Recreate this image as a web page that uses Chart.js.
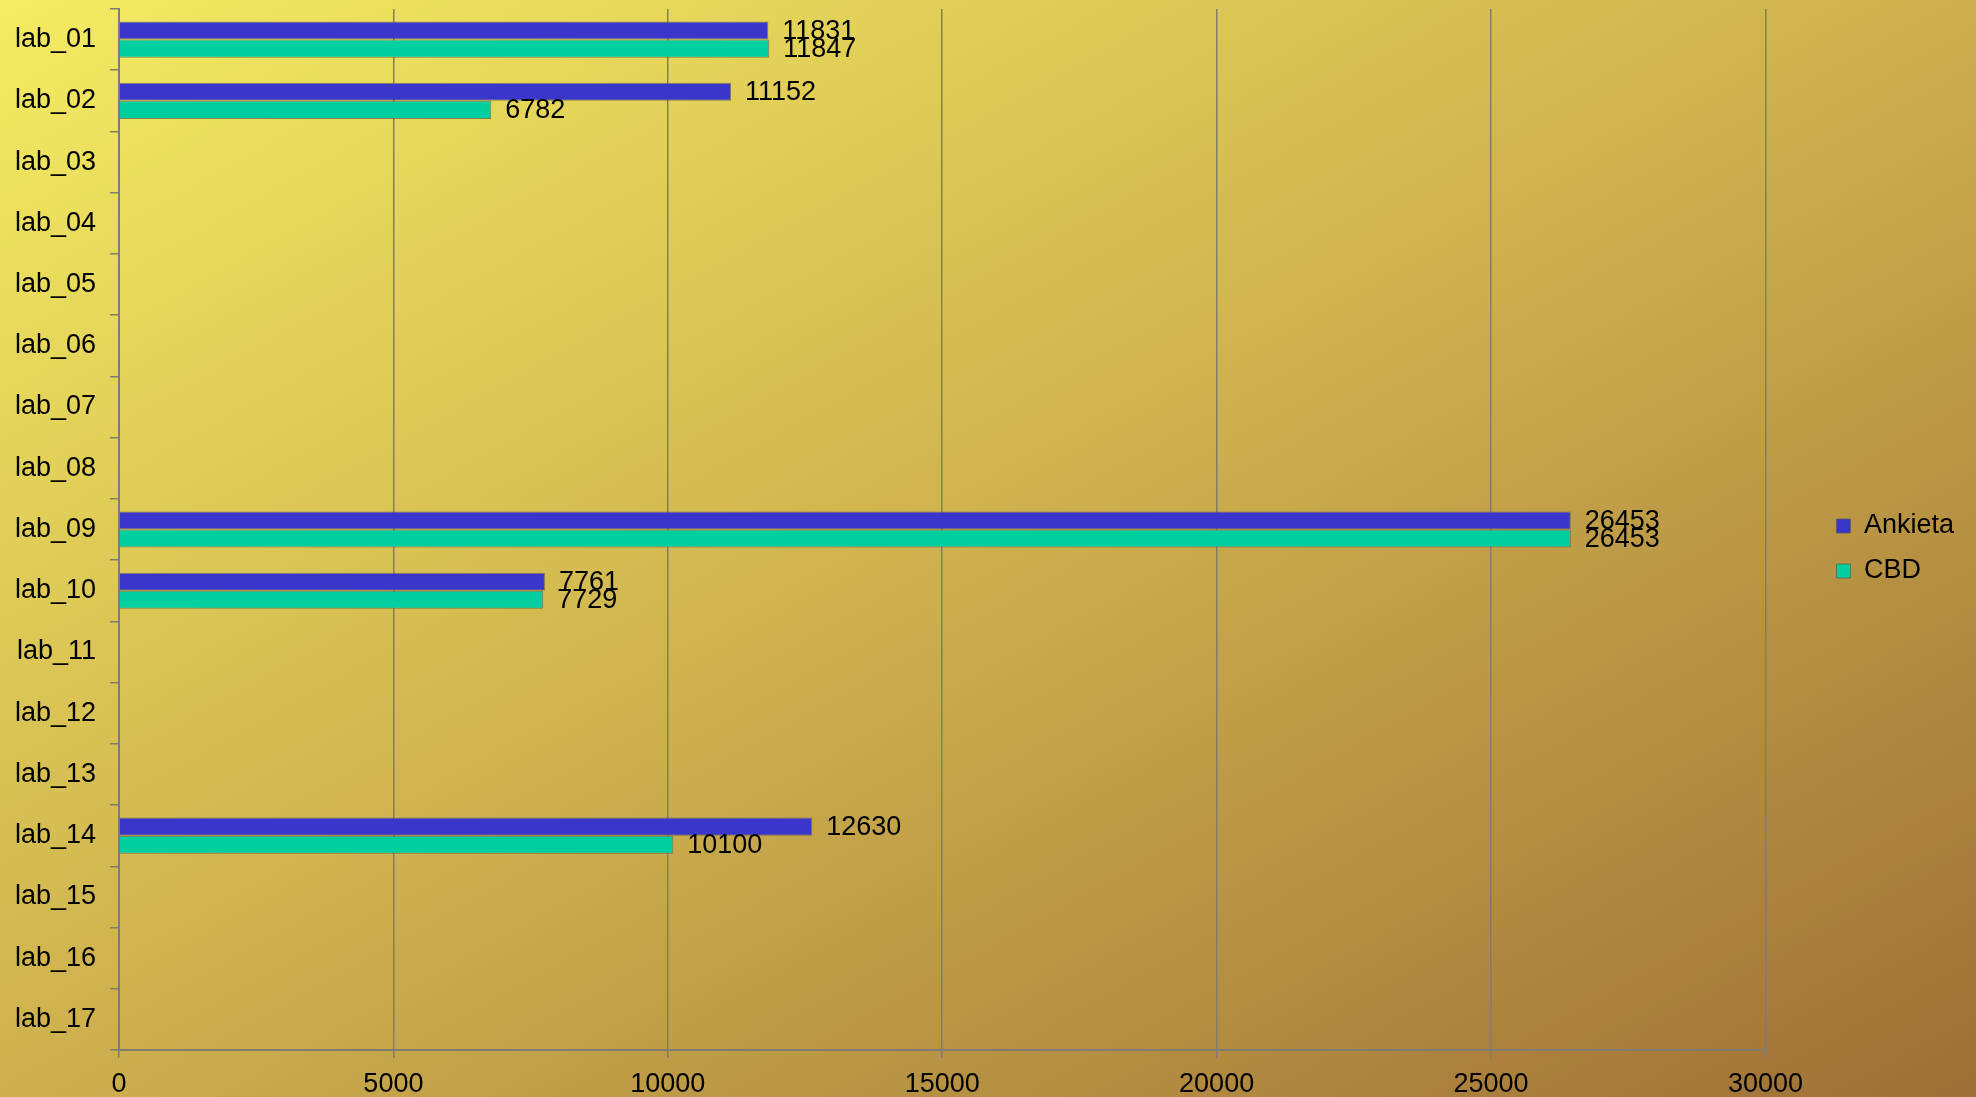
<!DOCTYPE html>
<html>
<head>
<meta charset="utf-8">
<script src="https://cdn.jsdelivr.net/npm/chart.js@4"></script>
<style>
  html, body { margin: 0; padding: 0; }
  body {
    width: 1976px; height: 1097px; overflow: hidden;
    background: linear-gradient(to bottom right, #f4ec62 0%, #cdb04e 50%, #9e6f36 100%);
  }
  canvas { display: block; }
</style>
</head>
<body>
<canvas id="labChart" width="1976" height="1097"></canvas>
<script>
var labels = ["lab_01", "lab_02", "lab_03", "lab_04", "lab_05", "lab_06", "lab_07", "lab_08", "lab_09",
              "lab_10", "lab_11", "lab_12", "lab_13", "lab_14", "lab_15", "lab_16", "lab_17"];
var ankieta = [11831, 11152, null, null, null, null, null, null, 26453, 7761, null, null, null, 12630, null, null, null];
var cbd = [11847, 6782, null, null, null, null, null, null, 26453, 7729, null, null, null, 10100, null, null, null];
var xTicks = [0, 5000, 10000, 15000, 20000, 25000, 30000];

var FONT = "'Liberation Sans', Arial, sans-serif";
var gray = '#807c72';

// values written next to the end of each bar
var valueLabels = {
    id: 'valueLabels',
    afterDatasetsDraw: function(chart) {
        var ctx = chart.ctx;
        ctx.save();
        ctx.font = '27px ' + FONT;
        ctx.fillStyle = '#000';
        ctx.textAlign = 'left';
        ctx.textBaseline = 'middle';
        chart.data.datasets.forEach(function(ds, i) {
            chart.getDatasetMeta(i).data.forEach(function(bar, j) {
                if (ds.data[j] == null) return;
                ctx.fillText(String(ds.data[j]), bar.x + 14, bar.y + 1);
            });
        });
        ctx.restore();
    }
};

var ctx = document.getElementById('labChart').getContext('2d');
var myChart = new Chart(ctx, {
    type: 'bar',
    data: {
        labels: labels,
        datasets: [{
            label: 'Ankieta',
            data: ankieta,
            backgroundColor: '#3a36cc',
            borderColor: 'rgba(90,90,80,0.7)',
            borderWidth: 1,
            categoryPercentage: 0.59,
            barPercentage: 1.0
        }, {
            label: 'CBD',
            data: cbd,
            backgroundColor: '#02cf9f',
            borderColor: 'rgba(90,90,80,0.7)',
            borderWidth: 1,
            categoryPercentage: 0.59,
            barPercentage: 1.0
        }]
    },
    options: {
        indexAxis: 'y',
        responsive: false,
        animation: false,
        devicePixelRatio: 1,
        layout: { padding: { right: 12 } },
        plugins: {
            tooltip: { enabled: false },
            legend: {
                position: 'right',
                labels: {
                    font: { family: FONT, size: 27 },
                    color: '#000',
                    boxWidth: 14,
                    boxHeight: 14,
                    padding: 18
                }
            }
        },
        scales: {
            x: {
                type: 'linear',
                position: 'bottom',
                min: 0,
                max: 30000,
                afterBuildTicks: function(scale) {
                    scale.ticks = xTicks.map(function(v) { return { value: v }; });
                },
                ticks: {
                    font: { family: FONT, size: 27 },
                    color: '#000',
                    padding: 10,
                    maxRotation: 0,
                    callback: function(v) { return String(v); }
                },
                grid: { color: gray, lineWidth: 1.5, tickLength: 8 },
                border: { color: gray, width: 2 },
                afterFit: function(s) { s.height = 47; }
            },
            y: {
                type: 'category',
                offset: true,
                ticks: {
                    font: { family: FONT, size: 27 },
                    color: '#000',
                    padding: 14
                },
                grid: { drawOnChartArea: false, color: gray, lineWidth: 1.5, tickLength: 9, offset: true },
                border: { color: gray, width: 2 },
                afterFit: function(s) {
                    s.width = 119;
                    s.paddingTop = 0;
                    s.paddingBottom = 0;
                }
            },
            xTop: {
                type: 'linear',
                position: 'top',
                display: true,
                ticks: { display: false },
                grid: { display: false },
                border: { display: false },
                afterFit: function(s) { s.height = 9; }
            },
            yRight: {
                type: 'linear',
                position: 'right',
                display: true,
                ticks: { display: false },
                grid: { display: false },
                border: { display: false },
                afterFit: function(s) { s.width = 53; }
            }
        }
    },
    plugins: [valueLabels]
});
</script>
</body>
</html>
